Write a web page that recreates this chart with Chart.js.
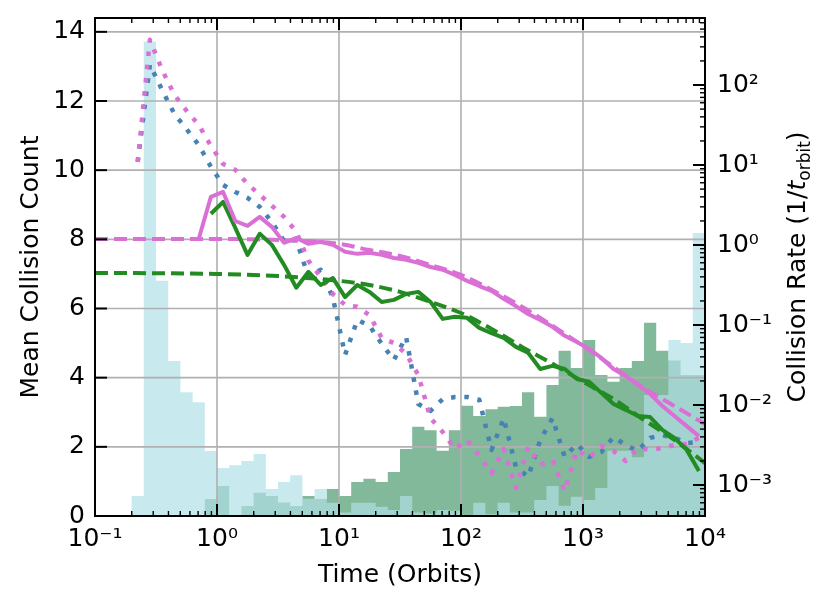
<!DOCTYPE html>
<html lang="en">
<head>
<meta charset="UTF-8" />
<title>Mean collision count and collision rate</title>
<script src="https://cdn.jsdelivr.net/npm/chart.js"></script>
<style>
  body { margin: 0; background: #fff; }
  canvas { display: block; }
</style>
</head>
<body>
<canvas id="myChart" width="830" height="607"></canvas>
<script>
// histogram bins: ten per decade, 1e-1 .. 1e4 orbits
const binEdges = Array.from({ length: 51 }, (_, i) => Math.pow(10, -1 + i / 10));
const binCentres = binEdges.slice(0, 50).map((e, i) => Math.sqrt(e * binEdges[i + 1]));

// histograms (left axis units)
const cyanCounts = [0, 0, 0, 0.58, 13.72, 6.8, 4.48, 3.58, 3.29, 1.88,
  1.39, 1.47, 1.59, 1.79, 0.78, 0.98, 1.18, 0.5, 0.78, 0.38,
  0.1, 0.38, 0.38, 0.27, 0.17, 0.58, 0.1, 0.07, 0.17, 0.15,
  0, 0.38, 0.05, 0.38, 0.1, 0.1, 0.46, 0.87, 0.3, 0.56,
  0.46, 0.81, 1.89, 1.89, 1.7, 3.5, 3.5, 5.09, 5.0, 8.18];
const greenCounts = [0, 0, 0, 0, 0, 0, 0, 0, 0, 0.49,
  0.87, 0, 0.29, 0.67, 0.58, 0.39, 0.29, 0.58, 0.49, 0.78,
  0.58, 0.98, 1.08, 0.98, 1.27, 1.94, 2.58, 2.48, 1.89, 2.48,
  3.19, 2.89, 3.09, 3.16, 3.18, 3.58, 2.87, 3.79, 4.78, 4.28,
  5.09, 4.08, 3.88, 4.28, 4.48, 5.59, 4.78, 4.5, 4.08, 4.08];

// per-bin curves (values at bin centres)
const blueDotted = [null, null, null, 10.24, 13.05, 12.32, 11.63, 11.19, 10.73, 10.10,
  9.57, 9.37, 9.20, 8.94, 8.50, 7.95, 7.98, 6.91, 7.12, 6.31,
  4.66, 5.67, 5.50, 4.98, 4.51, 5.18, 3.24, 3.04, 3.38, 3.44,
  3.44, 3.36, 1.91, 2.83, 1.42, 1.13, 2.20, 2.83, 1.71, 2.08,
  1.71, 1.85, 2.29, 2.05, 1.88, 2.26, 2.34, 2.26, 2.11, 2.14];
const pinkDotted = [null, null, null, 10.24, 13.77, 12.90, 12.18, 11.72, 11.31, 10.70,
  10.18, 10.01, 9.60, 9.29, 8.97, 8.65, 8.22, 7.38, 6.91, 6.42,
  6.10, 6.05, 5.81, 5.15, 5.00, 4.69, 4.08, 2.83, 2.43, 1.94,
  2.20, 1.74, 1.24, 1.94, 0.81, 2.00, 1.48, 1.62, 0.72, 1.91,
  1.68, 2.02, 1.88, 1.59, 1.97, 1.91, 1.97, 2.05, 2.08, 2.26];
const pinkSolid = [null, null, null, null, null, null, null, null, 8.01, 9.23,
  9.37, 8.53, 8.39, 8.65, 8.36, 7.90, 8.04, 7.87, 7.93, 7.84,
  7.64, 7.58, 7.61, 7.55, 7.46, 7.41, 7.32, 7.20, 7.12, 6.97,
  6.80, 6.65, 6.51, 6.28, 6.07, 5.84, 5.67, 5.47, 5.21, 5.03,
  4.83, 4.57, 4.25, 4.05, 3.79, 3.53, 3.18, 2.89, 2.60, 2.31];
const greenSolid = [null, null, null, null, null, null, null, null, null, 8.74,
  9.08, 8.33, 7.55, 8.16, 7.84, 7.26, 6.60, 7.06, 6.68, 6.88,
  6.33, 6.68, 6.48, 6.19, 6.25, 6.42, 6.48, 6.19, 5.70, 5.76,
  5.73, 5.44, 5.29, 5.15, 4.89, 4.72, 4.25, 4.34, 4.25, 3.96,
  3.88, 3.56, 3.24, 3.07, 2.89, 2.86, 2.49, 2.26, 1.91, 1.30];

// model curves (dashed)
const modelTimes = [0.1, 1, 3.16, 10, 17.8, 31.6, 56.2, 100, 178, 316, 562, 1000, 1780, 3160, 5620, 10000];
const greenModel = [7.03, 7.00, 6.94, 6.80, 6.68, 6.48, 6.19, 5.87, 5.41, 4.89, 4.40, 3.88, 3.38, 2.78, 2.20, 1.53];
const pinkModel = [8.01, 8.01, 7.98, 7.87, 7.69, 7.52, 7.26, 6.97, 6.54, 6.05, 5.50, 4.92, 4.31, 3.70, 3.18, 2.66];

// axis ticks
const timeTicks = [0.1, 1, 10, 100, 1000, 10000];
const countTicks = [0, 2, 4, 6, 8, 10, 12, 14];
const rateTicks = [0.001, 0.01, 0.1, 1, 10, 100];

const supMap = { '-': '\u207B', '0': '\u2070', '1': '\u00B9', '2': '\u00B2', '3': '\u00B3', '4': '\u2074' };
const pow10Label = (v) => '10' + String(Math.round(Math.log10(v))).split('').map(c => supMap[c]).join('');

function histPoints(counts) {
  const pts = [{ x: binEdges[0], y: 0 }];
  counts.forEach((c, i) => {
    pts.push({ x: binEdges[i], y: c }, { x: binEdges[i + 1], y: c });
  });
  pts.push({ x: binEdges[50], y: 0 });
  return pts;
}
const atCentres = (vals) => vals.map((v, i) => ({ x: binCentres[i], y: v }));
const atModel = (vals) => vals.map((v, i) => ({ x: modelTimes[i], y: v }));

const FONT = 'DejaVu Sans';
const FS = 25;
Chart.defaults.font.family = FONT;
Chart.defaults.font.size = FS;
Chart.defaults.color = '#000';

function line(ctx, x1, y1, x2, y2, w, color) {
  ctx.beginPath();
  ctx.lineWidth = w;
  ctx.strokeStyle = color;
  ctx.moveTo(x1, y1);
  ctx.lineTo(x2, y2);
  ctx.stroke();
}

// fixed box sizes so the plot area sits where the reference has it
const fixBox = (size, vertical) => (s) => {
  if (vertical) s.width = size; else s.height = size;
  s.paddingTop = 0; s.paddingBottom = 0; s.paddingLeft = 0; s.paddingRight = 0;
};

const axesDecor = {
  id: 'axesDecor',
  afterDatasetDraw(chart, args) {
    // grid goes over the histograms, under the curves
    if (args.index !== 1) return;
    const { ctx, chartArea: a, scales } = chart;
    ctx.save();
    timeTicks.forEach(v => {
      const x = scales.x.getPixelForValue(v);
      line(ctx, x, a.top, x, a.bottom, 1.6, '#b0b0b0');
    });
    countTicks.forEach(v => {
      const y = scales.y.getPixelForValue(v);
      line(ctx, a.left, y, a.right, y, 1.6, '#b0b0b0');
    });
    ctx.restore();
  },
  afterDraw(chart) {
    const { ctx, chartArea: a, scales } = chart;
    ctx.save();
    ctx.lineCap = 'butt';
    // x ticks, bottom and top, pointing in
    for (let d = -1; d <= 4; d++) {
      const x = scales.x.getPixelForValue(Math.pow(10, d));
      line(ctx, x, a.bottom, x, a.bottom - 12, 2, '#000');
      line(ctx, x, a.top, x, a.top + 12, 2, '#000');
      if (d === 4) break;
      for (let m = 2; m <= 9; m++) {
        const xm = scales.x.getPixelForValue(m * Math.pow(10, d));
        line(ctx, xm, a.bottom, xm, a.bottom - 5, 1.4, '#000');
        line(ctx, xm, a.top, xm, a.top + 5, 1.4, '#000');
      }
    }
    // left ticks
    countTicks.forEach(v => {
      const y = scales.y.getPixelForValue(v);
      line(ctx, a.left, y, a.left + 12, y, 2, '#000');
    });
    // right log ticks
    const r = scales.rate;
    for (let d = -4; d <= 2; d++) {
      for (let m = 1; m <= 9; m++) {
        const v = m * Math.pow(10, d);
        if (v < r.min || v > r.max) continue;
        const y = r.getPixelForValue(v);
        if (m === 1) line(ctx, a.right, y, a.right - 12, y, 2, '#000');
        else line(ctx, a.right, y, a.right - 5, y, 1.4, '#000');
      }
    }
    // frame
    ctx.lineWidth = 2;
    ctx.strokeStyle = '#000';
    ctx.strokeRect(a.left, a.top, a.right - a.left, a.bottom - a.top);

    // right axis title with italic t and subscript
    const parts = [
      { t: 'Collision Rate (1/', f: FS + 'px "' + FONT + '"', dy: 0 },
      { t: 't', f: 'italic ' + FS + 'px "' + FONT + '"', dy: 0 },
      { t: 'orbit', f: '17px "' + FONT + '"', dy: 5 },
      { t: ')', f: FS + 'px "' + FONT + '"', dy: 0 }
    ];
    let total = 0;
    parts.forEach(p => { ctx.font = p.f; p.w = ctx.measureText(p.t).width; total += p.w; });
    ctx.translate(796, (a.top + a.bottom) / 2);
    ctx.rotate(-Math.PI / 2);
    ctx.fillStyle = '#000';
    ctx.textBaseline = 'alphabetic';
    let x = -total / 2;
    parts.forEach(p => {
      ctx.font = p.f;
      ctx.fillText(p.t, x, 9 + p.dy);
      x += p.w;
    });
    ctx.restore();
  }
};

const ctx = document.getElementById('myChart');

const lineStyle = (color, dash, width) => ({
  borderColor: color,
  borderWidth: width,
  borderDash: dash,
  borderCapStyle: 'butt',
  borderJoinStyle: 'round',
  pointRadius: 0,
  fill: false,
  yAxisID: 'y'
});

new Chart(ctx, {
  type: 'line',
  data: {
    datasets: [
      { label: 'Green histogram', data: histPoints(greenCounts), order: 20,
        borderWidth: 0, pointRadius: 0, fill: 'origin',
        backgroundColor: 'rgba(46,139,87,0.6)', yAxisID: 'y' },
      { label: 'Cyan histogram', data: histPoints(cyanCounts), order: 19,
        borderWidth: 0, pointRadius: 0, fill: 'origin',
        backgroundColor: 'rgba(176,224,230,0.7)', yAxisID: 'y' },
      { label: 'Blue rate', data: atCentres(blueDotted), order: 6,
        ...lineStyle('#4682b4', [4.5, 8.8], 4.5) },
      { label: 'Pink rate', data: atCentres(pinkDotted), order: 5,
        ...lineStyle('#da70d6', [4.5, 8.8], 4.5) },
      { label: 'Green model', data: atModel(greenModel), order: 4,
        cubicInterpolationMode: 'monotone',
        ...lineStyle('#228b22', [13, 6], 4) },
      { label: 'Pink model', data: atModel(pinkModel), order: 3,
        cubicInterpolationMode: 'monotone',
        ...lineStyle('#da70d6', [13, 6], 4) },
      { label: 'Green count', data: atCentres(greenSolid), order: 2,
        ...lineStyle('#228b22', [], 4) },
      { label: 'Pink count', data: atCentres(pinkSolid), order: 1,
        ...lineStyle('#da70d6', [], 4) }
    ]
  },
  options: {
    responsive: false,
    animation: false,
    devicePixelRatio: 1,
    layout: { padding: { top: 18, left: 0, right: 0, bottom: 0 } },
    plugins: {
      legend: { display: false },
      tooltip: { enabled: false }
    },
    scales: {
      x: {
        type: 'logarithmic',
        min: 0.1,
        max: 10000,
        afterBuildTicks: (s) => { s.ticks = timeTicks.map(v => ({ value: v })); },
        afterFit: fixBox(91, false),
        grid: { display: false, drawTicks: false },
        border: { display: false },
        ticks: { callback: (v) => pow10Label(v), autoSkip: false, maxRotation: 0, padding: 8 },
        title: { display: true, text: 'Time (Orbits)', padding: { top: 0, bottom: 17 } }
      },
      y: {
        type: 'linear',
        position: 'left',
        min: 0,
        max: 14.4,
        afterBuildTicks: (s) => { s.ticks = countTicks.map(v => ({ value: v })); },
        afterFit: fixBox(95, true),
        grid: { display: false, drawTicks: false },
        border: { display: false },
        ticks: { padding: 10 },
        title: { display: true, text: 'Mean Collision Count', padding: { top: 16, bottom: 0 } }
      },
      rate: {
        type: 'logarithmic',
        position: 'right',
        min: 4.1e-4,
        max: 688,
        afterBuildTicks: (s) => { s.ticks = rateTicks.map(v => ({ value: v })); },
        afterFit: fixBox(125, true),
        grid: { display: false, drawTicks: false },
        border: { display: false },
        ticks: { callback: (v) => pow10Label(v), padding: 12 }
      }
    }
  },
  plugins: [axesDecor]
});
</script>
</body>
</html>
